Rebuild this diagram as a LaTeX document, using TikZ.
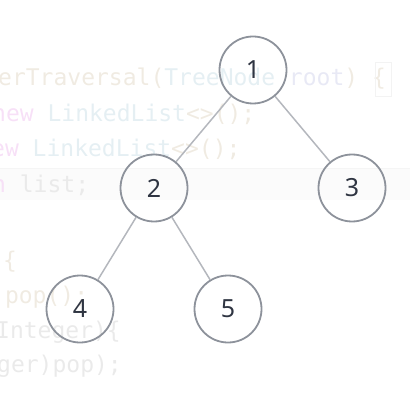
\documentclass[tikz,border=0pt]{standalone}
\usepackage{fontspec}
\setmainfont{Noto Sans}
\newfontfamily\codefont{DejaVu Sans Mono}
\definecolor{cbeige}{HTML}{F0EBE2}
\definecolor{cblue}{HTML}{E5EFF3}
\definecolor{clav}{HTML}{E8E9F5}
\definecolor{cpink}{HTML}{F7E0F7}
\definecolor{cgray}{HTML}{EAEAEA}
\definecolor{band}{HTML}{FBFBFB}
\definecolor{edgecol}{HTML}{B4B7BD}
\definecolor{ringcol}{HTML}{8D929B}
\definecolor{digitcol}{HTML}{2F3542}
\tikzset{
  treenode/.style={circle, draw=ringcol, line width=1.8pt, minimum size=67pt, inner sep=0pt,
    font=\fontsize{25}{29}\selectfont, text=digitcol},
  treeedge/.style={draw=edgecol, line width=1.5pt},
  codeline/.style={anchor=base west, inner sep=0pt, font=\codefont\fontsize{23}{27}\selectfont}
}
\begin{document}
\begin{tikzpicture}[x=1pt,y=-1pt]
\useasboundingbox (0,0) rectangle (410,411);
\begin{scope}
\clip (0,0) rectangle (410,411);
\fill[band] (0,168) rectangle (410,200);
\draw[cgray!50, line width=0.8pt] (0,168) -- (410,168);
\node[codeline] (c1) at (-2,86) {\textcolor{cbeige}{erTraversal(}\textcolor{cblue}{TreeNode} \textcolor{clav}{root}\textcolor{cbeige}{)} \textcolor{cbeige}{\{}};
\draw[cgray!60, line width=0.8pt] (375,62) rectangle (391,96);
\node[codeline] (c2) at (-8,121.5) {\textcolor{cpink}{new} \textcolor{cblue}{LinkedList}\textcolor{cbeige}{<>();}};
\node[codeline] (c3) at (-9,157) {\textcolor{cpink}{ew} \textcolor{cblue}{LinkedList}\textcolor{cbeige}{<>();}};
\node[codeline] (c4) at (-8,192.5) {\textcolor{cpink}{n} \textcolor{cgray}{list;}};
\node[codeline] (c5) at (-11,268) {\textcolor{cbeige}{)\{}};
\node[codeline] (c6) at (-9,303) {\textcolor{cbeige}{.pop();}};
\node[codeline] (c7) at (-4,338) {\textcolor{cgray}{Integer)\{}};
\node[codeline] (c8) at (-3,372) {\textcolor{cgray}{ger)pop);}};
\end{scope}
\node[treenode] (n1) at (253,70) {1};
\node[treenode] (n2) at (154,188) {2};
\node[treenode] (n3) at (352,188) {3};
\node[treenode] (n4) at (80,309) {4};
\node[treenode] (n5) at (228,309) {5};
\draw[treeedge] (n1) -- (n2);
\draw[treeedge] (n1) -- (n3);
\draw[treeedge] (n2) -- (n4);
\draw[treeedge] (n2) -- (n5);
\end{tikzpicture}
\end{document}
